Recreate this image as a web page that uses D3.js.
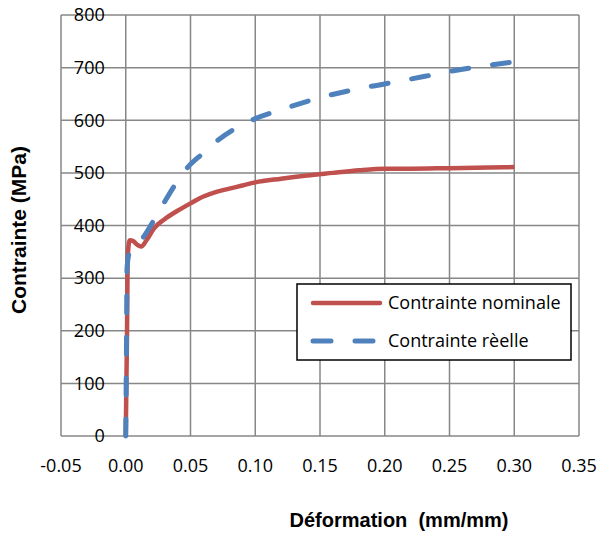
<!DOCTYPE html>
<html>
<head>
<meta charset="utf-8">
<script src="https://cdn.jsdelivr.net/npm/d3@7"></script>
<style>
  body { margin: 0; background: #fff; }
  svg text { font-family: "Open Sans", sans-serif; }
</style>
</head>
<body>
<div id="chart"></div>
<script>
// donnees
var nomStrain = [0, 0.001, 0.0015, 0.003, 0.006, 0.009, 0.012, 0.016, 0.022, 0.03, 0.04, 0.05, 0.06, 0.07, 0.08, 0.09, 0.10, 0.12, 0.14, 0.16, 0.18, 0.20, 0.22, 0.25, 0.28, 0.30];
var nomStress = [0, 200, 340, 372, 370, 363, 360, 372, 395, 412, 428, 442, 455, 464, 470, 476, 482, 489, 495, 500, 505, 508, 508, 509, 510, 511];

var trueStrain = [0, 0.0005, 0.001, 0.003, 0.007, 0.013, 0.021, 0.03, 0.038, 0.048, 0.059, 0.07, 0.085, 0.10, 0.12, 0.15, 0.18, 0.20, 0.23, 0.26, 0.30];
var trueStress = [0, 150, 320, 350, 362, 376, 407, 445, 477, 511, 536, 560, 585, 603, 620, 643, 660, 669, 683, 697, 711];

var xTicks = [-0.05, 0, 0.05, 0.10, 0.15, 0.20, 0.25, 0.30, 0.35];
var yTicks = [0, 100, 200, 300, 400, 500, 600, 700, 800];
var seriesNames = ["Contrainte nominale", "Contrainte rèelle"];
var seriesColors = ["#C0504D", "#4F81BD"];

var svg_w = 598, svg_h = 534;
var pLeft = 61, pRight = 579, pTop = 15, pBottom = 436;

var svg = d3.select("#chart").append("svg")
  .attr("width", svg_w)
  .attr("height", svg_h);

var x = d3.scaleLinear().domain([-0.05, 0.35]).range([pLeft, pRight]);
var y = d3.scaleLinear().domain([0, 800]).range([pBottom, pTop]);

// grille
svg.append("g")
  .selectAll("line")
  .data(xTicks)
  .enter()
  .append("line")
  .attr("x1", function(d) { return x(d); })
  .attr("x2", function(d) { return x(d); })
  .attr("y1", pTop)
  .attr("y2", pBottom)
  .attr("stroke", "#878787")
  .attr("stroke-width", 1.5);

svg.append("g")
  .selectAll("line")
  .data(yTicks)
  .enter()
  .append("line")
  .attr("x1", pLeft)
  .attr("x2", pRight)
  .attr("y1", function(d) { return y(d); })
  .attr("y2", function(d) { return y(d); })
  .attr("stroke", "#878787")
  .attr("stroke-width", 1.5);

// etiquettes axe y (a gauche de x=0)
svg.append("g")
  .selectAll("text")
  .data(yTicks)
  .enter()
  .append("text")
  .attr("x", x(0) - 21)
  .attr("y", function(d) { return y(d); })
  .attr("dy", "0.35em")
  .attr("text-anchor", "end")
  .attr("font-size", 18)
  .attr("fill", "#000")
  .text(function(d) { return d; });

// etiquettes axe x
svg.append("g")
  .selectAll("text")
  .data(xTicks)
  .enter()
  .append("text")
  .attr("x", function(d) { return x(d); })
  .attr("y", 472)
  .attr("text-anchor", "middle")
  .attr("font-size", 18)
  .attr("fill", "#000")
  .text(function(d) { return d.toFixed(2); });

// titres
svg.append("text")
  .attr("x", 399)
  .attr("y", 527)
  .attr("text-anchor", "middle")
  .attr("font-size", 20)
  .attr("font-weight", "bold")
  .style("font-family", "'Liberation Sans', Arial, sans-serif")
  .style("white-space", "pre")
  .text("Déformation  (mm/mm)");

svg.append("text")
  .attr("transform", "translate(26,230) rotate(-90)")
  .attr("text-anchor", "middle")
  .attr("font-size", 21)
  .attr("font-weight", "bold")
  .style("font-family", "'Liberation Sans', Arial, sans-serif")
  .text("Contrainte (MPa)");

// courbes
var line = d3.line()
  .x(function(d) { return x(d[0]); })
  .y(function(d) { return y(d[1]); })
  .curve(d3.curveMonotoneX);

var nomData = d3.zip(nomStrain, nomStress);
var trueData = d3.zip(trueStrain, trueStress);

svg.append("path")
  .datum(nomData)
  .attr("d", line)
  .attr("fill", "none")
  .attr("stroke", seriesColors[0])
  .attr("stroke-width", 4.5)
  .attr("stroke-linejoin", "round");

svg.append("path")
  .datum(trueData)
  .attr("d", line)
  .attr("fill", "none")
  .attr("stroke", seriesColors[1])
  .attr("stroke-width", 5)
  .attr("stroke-linecap", "round")
  .attr("stroke-dasharray", "17 24");

// legende
var lg = svg.append("g");
lg.append("rect")
  .attr("x", 297)
  .attr("y", 284)
  .attr("width", 274)
  .attr("height", 76)
  .attr("fill", "#fff")
  .attr("stroke", "#000")
  .attr("stroke-width", 1.5);

var ly = [303, 341];
seriesNames.forEach(function(name, i) {
  var l = lg.append("line")
    .attr("x1", 313)
    .attr("x2", i == 0 ? 380 : 373)
    .attr("y1", ly[i])
    .attr("y2", ly[i])
    .attr("stroke", seriesColors[i])
    .attr("stroke-width", i == 0 ? 4.5 : 5)
    .attr("stroke-linecap", "round");
  if (i == 1) l.attr("stroke-dasharray", "18 24");
  lg.append("text")
    .attr("x", 388)
    .attr("y", ly[i] + 6)
    .attr("font-size", 18)
    .attr("fill", "#000")
    .text(name);
});
</script>
</body>
</html>
